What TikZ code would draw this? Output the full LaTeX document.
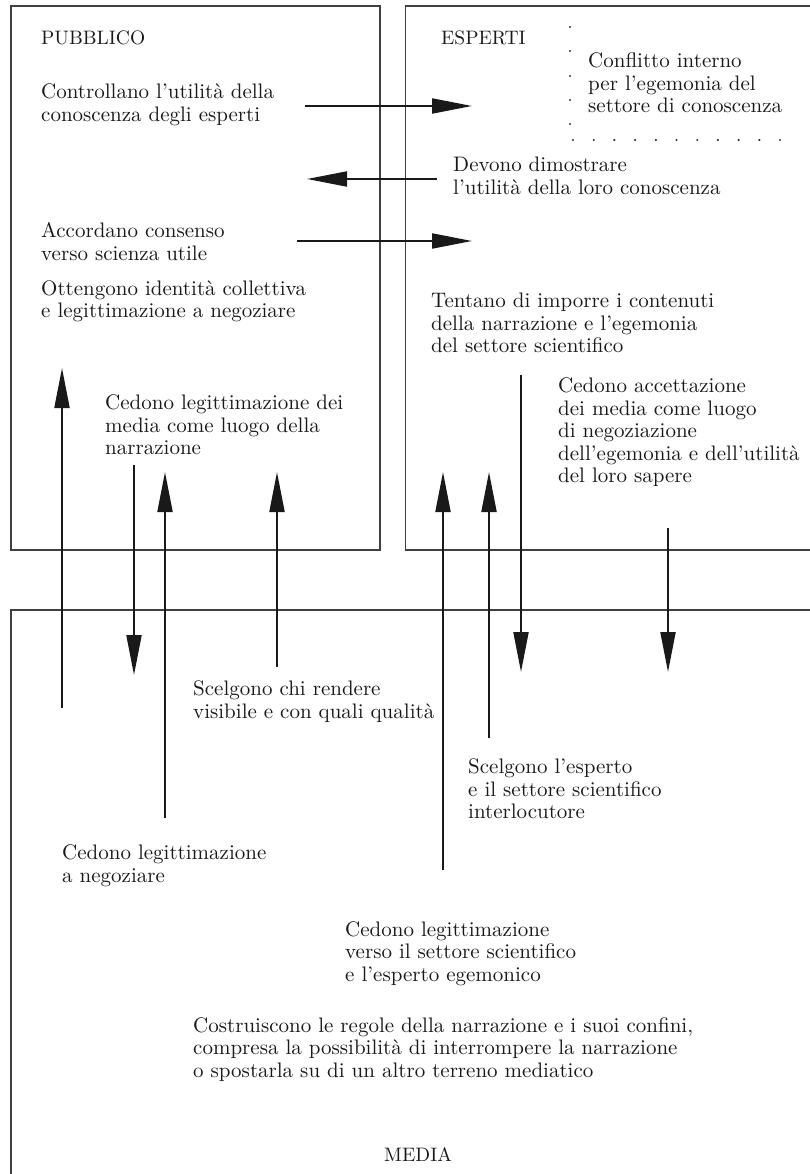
\documentclass[tikz,border=0pt]{standalone}
\usepackage{fontspec}
\setmainfont{lmroman10-regular.otf}[BoldFont=lmroman10-bold.otf,ItalicFont=lmroman10-italic.otf,BoldItalicFont=lmroman10-bolditalic.otf]
\usetikzlibrary{arrows.meta}
\begin{document}
\begin{tikzpicture}[x=1pt,y=-1pt,
  box/.style={draw=black!75,line width=1.3pt},
  txt/.style={anchor=base west,inner sep=0pt,align=left,font=\fontsize{21}{22.5}\selectfont,text=black!90},
  captxt/.style={txt,font=\fontsize{19.5}{22.5}\selectfont},
  arr/.style={line width=2pt,draw=black!90,-{Triangle[length=40pt,width=15pt]}},
  dotm/.style={fill=black!80,circle,inner sep=0pt,minimum size=2.4pt}]
\useasboundingbox (0,0) rectangle (810,1174);
\begin{scope}
\clip (0,0) rectangle (810,1174);
\draw[box] (11,6) rectangle (380,550);
\draw[box] (405.5,6) rectangle (830,550);
\draw[box] (11,610) rectangle (830,1200);
\end{scope}
% texts (anchor = baseline of the last line)
\node[captxt] (pub) at (41,45) {PUBBLICO};
\node[txt] (t1) at (41,121.5) {Controllano l’utilità della\\conoscenza degli esperti};
\node[txt] (t2) at (41,260) {Accordano consenso\\verso scienza utile};
\node[txt] (t3) at (41,317.5) {Ottengono identità collettiva\\e legittimazione a negoziare};
\node[txt] (t4) at (105,454.5) {Cedono legittimazione dei\\media come luogo della\\narrazione};
\node[captxt] (esp) at (441,45) {ESPERTI};
\node[txt] (e1) at (588,113) {Conflitto interno\\per l’egemonia del\\settore di conoscenza};
\node[txt] (e2) at (453,194.5) {Devono dimostrare\\l’utilità della loro conoscenza};
\node[txt] (e3) at (431,352.5) {Tentano di imporre i contenuti\\della narrazione e l’egemonia\\del settore scientifico};
\node[txt] (e4) at (558,482.5) {Cedono accettazione\\dei media come luogo\\di negoziazione\\dell’egemonia e dell’utilità\\del loro sapere};
\node[txt] (m1) at (193,718) {Scelgono chi rendere\\visibile e con quali qualità};
\node[txt] (m2) at (468,818.5) {Scelgono l’esperto\\e il settore scientifico\\interlocutore};
\node[txt] (m3) at (62,882) {Cedono legittimazione\\a negoziare};
\node[txt] (m4) at (345,981) {Cedono legittimazione\\verso il settore scientifico\\e l’esperto egemonico};
\node[txt] (m5) at (193,1077) {Costruiscono le regole della narrazione e i suoi confini,\\compresa la possibilità di interrompere la narrazione\\o spostarla su di un altro terreno mediatico};
\node[captxt] (med) at (384,1161) {MEDIA};
% dotted corner
\foreach \yy in {27,51,76,100,124} \node[dotm] at (570,\yy) {};
\foreach \i in {0,...,10} \node[dotm] at (573+20.7*\i,140) {};
% horizontal arrows
\coordinate (h1a) at (305,106); \coordinate (h1b) at (472,106);
\coordinate (h2a) at (437,179); \coordinate (h2b) at (307,179);
\coordinate (h3a) at (297,241); \coordinate (h3b) at (472,241);
\draw[arr] (h1a) -- (h1b);
\draw[arr] (h2a) -- (h2b);
\draw[arr] (h3a) -- (h3b);
% vertical arrows
\coordinate (v1a) at (62,708); \coordinate (v1b) at (62,368);
\coordinate (v2a) at (134,465); \coordinate (v2b) at (134,675);
\coordinate (v3a) at (165,818); \coordinate (v3b) at (165,472);
\coordinate (v4a) at (277,667); \coordinate (v4b) at (277,472);
\coordinate (v5a) at (443,870); \coordinate (v5b) at (443,472);
\coordinate (v6a) at (489,738); \coordinate (v6b) at (489,472);
\coordinate (v7a) at (521,375); \coordinate (v7b) at (521,672);
\coordinate (v8a) at (668,528); \coordinate (v8b) at (668,672);
\foreach \n in {1,...,8} \draw[arr] (v\n a) -- (v\n b);
\end{tikzpicture}
\end{document}
